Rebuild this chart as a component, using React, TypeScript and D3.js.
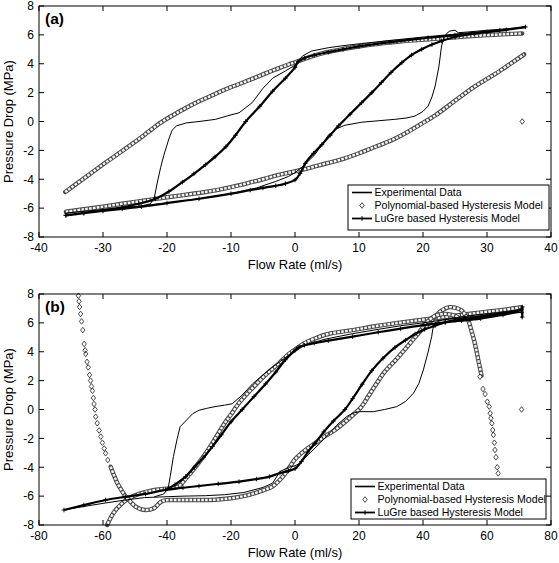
import React from 'react';
import * as d3 from 'd3';

type P = [number, number];

// ---------- tick values ----------
const xTicksA = [-40, -30, -20, -10, 0, 10, 20, 30, 40];
const xTicksB = [-80, -60, -40, -20, 0, 20, 40, 60, 80];
const yTicks = [-8, -6, -4, -2, 0, 2, 4, 6, 8];

const legendLabels = [
  'Experimental Data',
  'Polynomial-based Hysteresis Model',
  'LuGre based Hysteresis Model',
];
const xLabel = 'Flow Rate (ml/s)';
const yLabel = 'Pressure Drop (MPa)';

// ---------- panel (a) ----------
const expA: P[] = [
  [-36, -6.35], [-33, -6.22], [-30, -6.1], [-27, -5.98], [-24, -5.85], [-20, -5.65], [-15, -5.35],
  [-10, -5.0], [-6, -4.6], [-3, -4.15], [-1, -3.8], [0, -3.55], [1.5, -3.0], [3.1, -2.3], [4.2, -1.6],
  [5.2, -0.95], [6.5, -0.5], [7.8, -0.26], [10.4, -0.05], [13, 0.05], [15.6, 0.15], [17.5, 0.25],
  [18.75, 0.38], [20, 0.7], [20.8, 1.07], [21.4, 1.7], [21.9, 2.46], [22.5, 3.85], [22.9, 5.23],
  [23.3, 5.8], [23.7, 6.1], [24.2, 6.27], [25, 6.32], [25.5, 6.15], [27, 6.2], [30, 6.32], [33, 6.42],
  [36, 6.5], [33, 6.38], [30, 6.27], [25, 6.05], [20, 5.85], [15, 5.62], [10.4, 5.4], [7.5, 5.25],
  [5.2, 5.11], [2.6, 4.88], [1.2, 4.55], [0, 3.9], [-1.5, 3.5], [-3.5, 3.0], [-5, 2.3], [-6.7, 1.3],
  [-8.75, 0.6], [-10.5, 0.4], [-12.4, 0.15], [-15, 0.0], [-17, -0.1], [-18.5, -0.3], [-19.2, -0.6],
  [-19.7, -1.2], [-20.5, -2.34], [-21, -3.2], [-21.5, -4.2], [-22, -5.3], [-22.6, -5.7], [-24, -5.85],
];

const lugreA: P[] = [
  [-35.8, -6.5], [-33, -6.35], [-30, -6.2], [-27, -6.05], [-24, -5.9], [-20, -5.65], [-15, -5.35],
  [-10, -5.0], [-7, -4.75], [-5, -4.6], [-3, -4.45], [-1.5, -4.3], [0, -4.05], [0.8, -3.6], [1.6, -2.9],
  [2.9, -2.2], [4.2, -1.6], [5.5, -0.95], [6.8, -0.3], [8.6, 0.5], [10.4, 1.3], [12, 2.0], [13.5, 2.7],
  [15, 3.4], [16.7, 4.08], [18.2, 4.6], [19.8, 5.0], [21.4, 5.33], [22.9, 5.58], [25, 5.85], [28, 6.08],
  [32, 6.3], [36, 6.55], [33, 6.35], [30, 6.2], [25, 5.98], [20.8, 5.8], [15, 5.5], [10, 5.2], [7.5, 5.0],
  [5.2, 4.8], [3, 4.6], [1.5, 4.4], [0.5, 4.15], [0, 3.75], [-1.5, 3.0], [-3.5, 2.1], [-5.5, 1.05],
  [-7.7, 0], [-9.3, -0.95], [-10.8, -1.75], [-12.5, -2.45], [-14, -3.0], [-15.8, -3.62], [-17.6, -4.2],
  [-19.7, -4.85], [-21.8, -5.35], [-24.4, -5.7], [-27, -5.95], [-30, -6.15], [-33, -6.33], [-35.8, -6.5],
];

const polyUpperA: P[] = [
  [-35.9, -4.88], [-33, -3.95], [-30.5, -3.13], [-28, -2.35], [-25.3, -1.51], [-23, -0.75], [-21, -0.08],
  [-19, 0.45], [-17, 0.95], [-15, 1.4], [-13, 1.8], [-11, 2.2], [-9, 2.55], [-6.7, 2.95], [-4.5, 3.35],
  [-2.5, 3.7], [-1, 3.95], [0, 4.1], [2.5, 4.5], [5, 4.8], [7.5, 5.02], [10.4, 5.23], [13, 5.38],
  [16, 5.52], [18.5, 5.62], [20.8, 5.69], [24, 5.8], [27, 5.9], [30, 5.98], [33, 6.05], [35.5, 6.1],
];

const polyLowerA: P[] = [
  [-35.8, -6.25], [-33, -6.08], [-30, -5.9], [-27, -5.7], [-24.4, -5.53], [-22, -5.38], [-20, -5.25],
  [-17, -5.07], [-14, -4.88], [-12, -4.73], [-10, -4.55], [-8.3, -4.38], [-6.7, -4.19], [-5, -4.0],
  [-3, -3.75], [-1.5, -3.6], [0, -3.45], [2, -3.25], [4, -3.0], [6, -2.78], [7.8, -2.55], [10, -2.2],
  [12, -1.85], [14, -1.5], [15.6, -1.19], [17.5, -0.75], [19.8, -0.15], [22, 0.45], [24, 1.1],
  [26, 1.77], [28, 2.4], [30, 2.95], [31.3, 3.3], [33, 3.8], [34.5, 4.25], [35.8, 4.65],
];

const polySparseA: P[] = [[35.5, 0]];

// ---------- panel (b) ----------
const expB: P[] = [
  [-72, -6.95], [-66, -6.72], [-60, -6.5], [-54, -6.3], [-47, -6.1], [-41, -6.05], [-35, -6.0],
  [-28, -5.97], [-22, -5.9], [-16, -5.75], [-10, -5.4], [-7, -5.1], [-4.7, -4.3], [-2, -4.0], [0, -3.9],
  [1.6, -3.72], [4.7, -3.0], [7.8, -2.34], [10.5, -1.7], [13, -1.1], [16.1, -0.5], [18, -0.25],
  [20.3, -0.15], [24.5, -0.15], [28, 0.0], [31.8, 0.2], [34.5, 0.55], [37, 1.12], [38.7, 1.8],
  [40.1, 2.74], [41.5, 3.9], [42.7, 5.04], [43.1, 5.6], [43.6, 6.0], [46, 6.2], [50, 6.35], [55, 6.5],
  [60, 6.62], [65, 6.75], [71, 6.9], [65, 6.7], [60, 6.55], [52, 6.35], [46, 6.2], [40, 6.0], [33, 5.8],
  [26, 5.55], [18, 5.25], [10, 4.9], [5, 4.6], [2, 4.35], [0, 4.05], [-3, 3.6], [-7.1, 2.92],
  [-10, 2.4], [-13.3, 1.77], [-16.5, 1.0], [-19.6, 0.4], [-22, 0.3], [-25, 0.2], [-27.6, 0.08],
  [-30, -0.05], [-32, -0.3], [-33.9, -0.73], [-35.9, -1.19], [-36.8, -2.0], [-38, -3.27], [-39, -4.65],
  [-39.6, -5.4], [-41, -5.85], [-44, -6.05],
];

const lugreB: P[] = [
  [-72.2, -6.96], [-66, -6.62], [-59.2, -6.27], [-53, -6.05], [-46.7, -5.85], [-40.4, -5.57],
  [-35, -5.42], [-30, -5.3], [-24, -5.15], [-17.5, -5.0], [-12, -4.82], [-8, -4.65], [-4.7, -4.4],
  [-2, -4.25], [0, -4.1], [2, -3.6], [4, -2.95], [6.25, -2.34], [9, -1.55], [12, -0.8], [15.6, 0],
  [18, 0.75], [21, 1.75], [24, 2.69], [27.5, 3.55], [31.25, 4.3], [34.5, 4.8], [37.5, 5.23],
  [40.5, 5.55], [43.75, 5.8], [47, 6.05], [50, 6.2], [55, 6.35], [60, 6.5], [65, 6.68], [70.8, 6.95],
  [71, 7.1], [71, 6.4], [70.8, 6.73], [65, 6.55], [58, 6.3], [52, 6.15], [46.9, 6.04], [40, 5.85],
  [33, 5.6], [26, 5.35], [18, 5.05], [10.4, 4.77], [6, 4.6], [3, 4.45], [1, 4.3], [0, 4.1], [-3, 3.45],
  [-6, 2.6], [-9.2, 1.77], [-12.8, 0.9], [-16.5, 0.0], [-20, -0.85], [-23, -1.75], [-25.8, -2.57],
  [-28.5, -3.3], [-31.5, -4.0], [-34.2, -4.65], [-37.5, -5.2], [-40.4, -5.57],
];

const polyUpperB: P[] = [
  [70.8, 7.08], [65, 6.9], [58.3, 6.73], [50, 6.5], [41.7, 6.27], [34, 6.05], [26, 5.8], [18, 5.5],
  [10.4, 5.23], [6, 4.9], [3, 4.6], [1, 4.3], [0, 4.15], [-1.9, 3.85], [-5, 3.2], [-9.2, 2.4],
  [-13, 1.55], [-17.5, 0.45], [-20, -0.35], [-22, -0.95], [-24.5, -1.85], [-27.9, -3.03], [-31, -3.95],
  [-34, -4.75], [-36.25, -5.3], [-38.5, -5.45], [-41, -5.5], [-44.6, -5.6], [-48.75, -5.85],
  [-51, -6.05], [-52.9, -6.3], [-54.5, -6.6], [-56, -6.96], [-57.5, -7.45], [-58.7, -8.0],
];

const polyLowerB: P[] = [
  [-57.6, -3.96], [-56.5, -4.6], [-55.5, -5.11], [-54.2, -5.6], [-52.9, -6.03], [-51.3, -6.42],
  [-49.8, -6.73], [-48.2, -6.9], [-46.7, -6.96], [-45.3, -6.93], [-44.1, -6.84], [-43.2, -6.68],
  [-42.5, -6.5], [-41.5, -6.35], [-40, -6.28], [-35, -6.27], [-30, -6.27], [-25, -6.25], [-20, -6.15],
  [-15, -5.95], [-10, -5.6], [-7.1, -5.34], [-4, -4.7], [-2, -4.1], [0, -3.45], [3, -2.85],
  [6.25, -2.34], [9, -1.9], [12.5, -1.42], [16, -0.8], [18.5, -0.3], [20.8, 0.2], [23, 0.95],
  [25.5, 1.8], [28, 2.6], [31.25, 3.38], [34.5, 4.2], [37.5, 5.0], [39.5, 5.5], [41.7, 5.92],
  [43.8, 6.45], [45.8, 6.85], [47.9, 7.08], [50, 7.05], [52.1, 6.85], [53.2, 6.55], [54.2, 6.15],
  [55.2, 5.4], [56.25, 4.54], [57.3, 3.4], [58.3, 2.34],
];

const polyInnerArcB: P[] = [
  [39, 5.4], [41.7, 6.15], [44, 6.5], [46.9, 6.62], [49, 6.55], [51, 6.38],
];

const polySparseB: P[] = [
  // left descending branch
  [-67.7, 7.88], [-67.5, 7.5], [-67.3, 7.1], [-67, 6.62], [-66.7, 6.1], [-66.3, 5.5], [-65.9, 4.54],
  [-65.6, 4.1], [-65.4, 3.85], [-65, 3.3], [-64.6, 2.92], [-64.2, 2.4], [-63.9, 2.0], [-63.6, 1.6],
  [-63.3, 1.3], [-63, 0.8], [-62.8, 0.38], [-62.5, 0.0], [-62.3, -0.5], [-61.8, -0.95], [-61.2, -1.45],
  [-60.7, -1.88], [-60.2, -2.3], [-59.6, -2.7], [-59.2, -3.03], [-58.5, -3.5],
  // right descending branch
  [57.8, 2.27], [58.75, 1.42], [59.4, 1.07], [60.1, 0.54], [60.7, 0.2], [61, -0.26], [61.2, -0.6],
  [61.5, -0.95], [61.8, -1.42], [62, -1.76], [62.3, -2.3], [62.5, -2.8], [62.8, -3.3], [63.2, -4.0],
  [63.5, -4.42], [63.75, -5.11],
  // outlier
  [70.8, 0],
];

// ---------- drawing ----------
const FONT = "'Liberation Sans', Arial, Helvetica, sans-serif";
const X0 = 39;
const X1 = 551;

type PanelProps = {
  y0: number;
  y1: number;
  xDomain: [number, number];
  xTicks: number[];
  tag: string;
  exp: P[];
  lugre: P[];
  polyBands: P[][];
  polySparse: P[];
  legend: { x: number; y: number; w: number; h: number };
};

function diamond(x: number, y: number) {
  return `M${x},${y - 2.8}L${x + 2.2},${y}L${x},${y + 2.8}L${x - 2.2},${y}Z`;
}
function plus(x: number, y: number, s = 2.3) {
  return `M${x - s},${y}h${2 * s}M${x},${y - s}v${2 * s}`;
}

function Panel(p: PanelProps) {
  const xs = d3.scaleLinear().domain(p.xDomain).range([X0, X1]);
  const ys = d3.scaleLinear().domain([-8, 8]).range([p.y1, p.y0]);
  const line = d3.line<P>().x((d) => xs(d[0])).y((d) => ys(d[1]));
  const smooth = d3
    .line<P>()
    .x((d) => xs(d[0]))
    .y((d) => ys(d[1]))
    .curve(d3.curveCatmullRom.alpha(0.5));
  const clip = `clip-${p.tag}`;
  const plusPath = p.lugre.map((d) => plus(xs(d[0]), ys(d[1]))).join('');
  const sparsePath = p.polySparse.map((d) => diamond(xs(d[0]), ys(d[1]))).join('');
  const L = p.legend;
  const rows = [L.y + 7.5, L.y + 20.5, L.y + 33.5];
  const lx0 = L.x + 4;
  const lx1 = L.x + 24;
  const lm = (lx0 + lx1) / 2;

  return (
    <g>
      <defs>
        <clipPath id={clip}>
          <rect x={X0} y={p.y0} width={X1 - X0} height={p.y1 - p.y0} />
        </clipPath>
      </defs>
      <rect x={X0} y={p.y0} width={X1 - X0} height={p.y1 - p.y0} fill="#fff" />
      <g clipPath={`url(#${clip})`}>
        {p.polyBands.map((b, i) => (
          <g key={i}>
            <path d={smooth(b) || ''} fill="none" stroke="#4a4a4a" strokeWidth={4.4} strokeLinejoin="round" strokeLinecap="round" />
            <path d={smooth(b) || ''} fill="none" stroke="#f6f6f6" strokeWidth={2.4} strokeDasharray="2.6,1.3" strokeLinejoin="round" />
          </g>
        ))}
        <path d={sparsePath} fill="#fff" stroke="#333" strokeWidth={0.9} />
        <path d={line(p.exp) || ''} fill="none" stroke="#000" strokeWidth={1} strokeLinejoin="round" />
        <path d={smooth(p.lugre) || ''} fill="none" stroke="#000" strokeWidth={2.2} strokeLinejoin="round" />
        <path d={plusPath} fill="none" stroke="#000" strokeWidth={0.9} />
      </g>
      {/* axes box */}
      <rect x={X0} y={p.y0} width={X1 - X0} height={p.y1 - p.y0} fill="none" stroke="#000" strokeWidth={1} />
      {p.xTicks.map((t) => (
        <g key={`x${t}`}>
          <line x1={xs(t)} x2={xs(t)} y1={p.y1} y2={p.y1 - 5} stroke="#000" />
          <line x1={xs(t)} x2={xs(t)} y1={p.y0} y2={p.y0 + 5} stroke="#000" />
          <text x={xs(t)} y={p.y1 + 14.5} textAnchor="middle" fontSize={12} fontFamily={FONT} fill="#000">
            {t}
          </text>
        </g>
      ))}
      {yTicks.map((t) => (
        <g key={`y${t}`}>
          <line x1={X0} x2={X0 + 5} y1={ys(t)} y2={ys(t)} stroke="#000" />
          <line x1={X1} x2={X1 - 5} y1={ys(t)} y2={ys(t)} stroke="#000" />
          <text x={34} y={ys(t) + 4.3} textAnchor="end" fontSize={12} fontFamily={FONT} fill="#000">
            {t}
          </text>
        </g>
      ))}
      <text x={(X0 + X1) / 2} y={p.y1 + 31.5} textAnchor="middle" fontSize={13} fontFamily={FONT} fill="#000">
        {xLabel}
      </text>
      <text
        transform={`translate(13,${(p.y0 + p.y1) / 2}) rotate(-90)`}
        textAnchor="middle"
        fontSize={13}
        fontFamily={FONT}
        fill="#000"
      >
        {yLabel}
      </text>
      <text x={45} y={p.y0 + 17.5} fontSize={15.5} fontWeight="bold" fontFamily={FONT} fill="#000">
        {p.tag}
      </text>
      {/* legend */}
      <rect x={L.x} y={L.y} width={L.w} height={L.h} fill="#fff" stroke="#000" strokeWidth={1} />
      <line x1={lx0} x2={lx1} y1={rows[0]} y2={rows[0]} stroke="#000" strokeWidth={1.6} />
      <path d={diamond(lm, rows[1])} fill="#fff" stroke="#333" strokeWidth={0.9} />
      <line x1={lx0} x2={lx1} y1={rows[2]} y2={rows[2]} stroke="#000" strokeWidth={1.8} />
      <path d={plus(lm, rows[2])} stroke="#000" strokeWidth={1} />
      {legendLabels.map((s, i) => (
        <text key={s} x={lx1 + 2.5} y={rows[i] + 3.8} fontSize={10.6} fontFamily={FONT} fill="#000">
          {s}
        </text>
      ))}
    </g>
  );
}

export default function App() {
  return (
    <svg
      width={559}
      height={563}
      viewBox="0 0 559 563"
      style={{ position: 'absolute', left: 0, top: 0, background: '#fff' }}
    >
      <rect width={559} height={563} fill="#fff" />
      <Panel
        y0={6}
        y1={237}
        xDomain={[-40, 40]}
        xTicks={xTicksA}
        tag="(a)"
        exp={expA}
        lugre={lugreA}
        polyBands={[polyUpperA, polyLowerA]}
        polySparse={polySparseA}
        legend={{ x: 348, y: 185, w: 201, h: 45 }}
      />
      <Panel
        y0={294}
        y1={525}
        xDomain={[-80, 80]}
        xTicks={xTicksB}
        tag="(b)"
        exp={expB}
        lugre={lugreB}
        polyBands={[polyUpperB, polyLowerB, polyInnerArcB]}
        polySparse={polySparseB}
        legend={{ x: 351, y: 479, w: 195, h: 40 }}
      />
    </svg>
  );
}
